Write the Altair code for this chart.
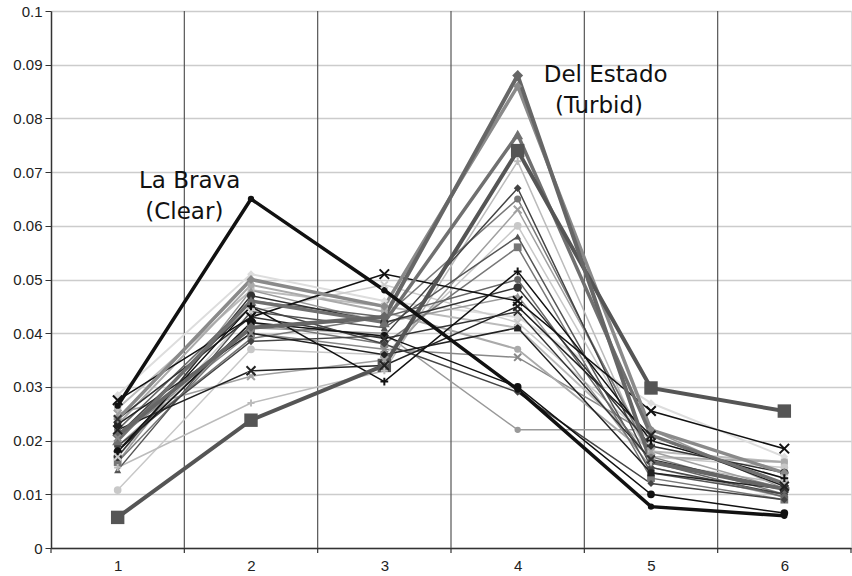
import altair as alt
import pandas as pd

sites = [1, 2, 3, 4, 5, 6]

# series: name, values, color, line width, marker
series_names = [f"s{i}" for i in range(1, 29)]
series_values = [
    [0.0205, 0.040, 0.037, 0.0355, 0.021, 0.012],
    [0.019, 0.041, 0.040, 0.022, 0.022, 0.011],
    [0.0285, 0.051, 0.046, 0.043, 0.027, 0.017],
    [0.026, 0.048, 0.045, 0.041, 0.018, 0.016],
    [0.023, 0.049, 0.044, 0.037, 0.017, 0.016],
    [0.017, 0.044, 0.049, 0.042, 0.020, 0.013],
    [0.0108, 0.037, 0.036, 0.060, 0.017, 0.015],
    [0.015, 0.027, 0.033, 0.072, 0.016, 0.012],
    [0.025, 0.032, 0.035, 0.063, 0.018, 0.011],
    [0.016, 0.048, 0.042, 0.047, 0.015, 0.0095],
    [0.016, 0.042, 0.038, 0.056, 0.013, 0.009],
    [0.0145, 0.044, 0.041, 0.058, 0.014, 0.010],
    [0.019, 0.039, 0.043, 0.065, 0.017, 0.010],
    [0.019, 0.0385, 0.0395, 0.067, 0.015, 0.010],
    [0.022, 0.046, 0.043, 0.050, 0.016, 0.0095],
    [0.024, 0.043, 0.039, 0.044, 0.0165, 0.011],
    [0.023, 0.040, 0.036, 0.041, 0.014, 0.011],
    [0.021, 0.045, 0.038, 0.029, 0.012, 0.009],
    [0.018, 0.042, 0.0395, 0.030, 0.010, 0.0065],
    [0.022, 0.033, 0.034, 0.045, 0.021, 0.0115],
    [0.017, 0.047, 0.042, 0.0485, 0.019, 0.014],
    [0.018, 0.045, 0.031, 0.0515, 0.020, 0.013],
    [0.0275, 0.043, 0.051, 0.046, 0.0255, 0.0185],
    [0.024, 0.050, 0.045, 0.086, 0.022, 0.014],
    [0.020, 0.046, 0.042, 0.077, 0.021, 0.012],
    [0.0057, 0.0238, 0.034, 0.074, 0.0298, 0.0255],
    [0.021, 0.041, 0.043, 0.088, 0.016, 0.011],
    [0.0265, 0.065, 0.048, 0.0295, 0.0077, 0.006],
]
series_colors = [
    "#888888", "#999999", "#dddddd", "#bbbbbb", "#aaaaaa", "#cccccc", "#c8c8c8",
    "#bbbbbb", "#a0a0a0", "#999999", "#777777", "#555555", "#777777", "#444444",
    "#666666", "#333333", "#222222", "#444444", "#111111", "#222222", "#333333",
    "#111111", "#111111", "#8a8a8a", "#707070", "#555555", "#666666", "#111111",
]
series_widths = [
    1.5, 1.5, 2, 2, 2, 1.5, 1.5, 1.5, 1.5, 1.5, 1.5, 1.5, 1.5, 1.5,
    1.5, 1.5, 1.5, 1.5, 1.5, 1.5, 1.5, 1.5, 1.5, 3.5, 3.5, 4, 4, 3.5,
]
series_markers = [
    "x", "circle", "diamond", "square", "circle", "x", "circle",
    "plus", "x", "triangle-up", "square", "triangle-up", "circle", "diamond",
    "circle", "x", "square", "diamond", "circle", "x", "circle",
    "plus", "x", "diamond", "triangle-up", "square", "diamond", "circle",
]
series_marker_sizes = [
    50, 40, 60, 50, 50, 50, 60, 50, 60, 50, 60, 50, 50, 60,
    50, 60, 50, 50, 60, 80, 70, 60, 90, 80, 120, 180, 120, 40,
]

annot_text = ["La Brava", "(Clear)", "Del Estado", "(Turbid)"]
annot_x = [1.54, 1.5, 4.66, 4.61]
annot_y = [0.0683, 0.0626, 0.0881, 0.0823]

y_ticks = [round(i * 0.01, 2) for i in range(11)]
boundaries = [1.5, 2.5, 3.5, 4.5, 5.5]
tick_bounds = [0.5, 1.5, 2.5, 3.5, 4.5, 5.5, 6.5]

rows = []
for i, name in enumerate(series_names):
    for s, v in zip(sites, series_values[i]):
        rows.append({
            "series": name, "order": i, "site": s, "value": v,
            "color": series_colors[i], "width": series_widths[i],
            "marker": series_markers[i], "msize": series_marker_sizes[i],
        })
df = pd.DataFrame(rows)

W, H = 800, 537
xs = alt.Scale(domain=[0.5, 6.5], nice=False, zero=False)
ys = alt.Scale(domain=[0, 0.1], nice=False)

grid = alt.Chart(pd.DataFrame({"b": boundaries})).mark_rule(
    color="#555555", strokeWidth=1.2
).encode(x=alt.X("b:Q", scale=xs), y=alt.value(0), y2=alt.value(H))

ticks = alt.Chart(pd.DataFrame({"b": tick_bounds})).mark_rule(
    color="#333333", strokeWidth=1.2
).encode(x=alt.X("b:Q", scale=xs), y=alt.value(H), y2=alt.value(H + 5))

lines = alt.Chart(df).mark_line().encode(
    x=alt.X("site:Q", scale=xs, axis=alt.Axis(
        values=sites, format="d", ticks=False, grid=False, title=None,
        domainColor="#333333", domainWidth=1.5, labelFontSize=15,
        labelColor="#222222", labelFont="Liberation Sans", labelPadding=10)),
    y=alt.Y("value:Q", scale=ys, axis=alt.Axis(
        values=y_ticks, format=".2~f", title=None, gridColor="#cccccc",
        gridWidth=1.3, domainColor="#333333", domainWidth=1.5,
        tickColor="#333333", tickSize=6, labelFontSize=15,
        labelColor="#222222", labelFont="Liberation Sans", labelPadding=3)),
    detail="series:N",
    order="site:Q",
    color=alt.Color("color:N", scale=None),
    strokeWidth=alt.StrokeWidth("width:Q", scale=None),
)

filled_df = df[~df["marker"].isin(["x", "plus"])]
stroke_df = df[df["marker"].isin(["x", "plus"])].copy()
stroke_df["path"] = stroke_df["marker"].map({
    "x": "M-1,-1L1,1M-1,1L1,-1",
    "plus": "M-1,0L1,0M0,-1L0,1",
})

pts_filled = alt.Chart(filled_df).mark_point(filled=True, opacity=1).encode(
    x=alt.X("site:Q", scale=xs),
    y=alt.Y("value:Q", scale=ys),
    shape=alt.Shape("marker:N", scale=None),
    color=alt.Color("color:N", scale=None),
    size=alt.Size("msize:Q", scale=None),
)

pts_stroke = alt.Chart(stroke_df).mark_point(filled=False, opacity=1, strokeWidth=2).encode(
    x=alt.X("site:Q", scale=xs),
    y=alt.Y("value:Q", scale=ys),
    shape=alt.Shape("path:N", scale=None),
    color=alt.Color("color:N", scale=None),
    size=alt.Size("msize:Q", scale=None),
)

annots = alt.Chart(pd.DataFrame({
    "t": annot_text, "x": annot_x, "y": annot_y
})).mark_text(font="DejaVu Sans", fontSize=23, color="#111111", align="center",
              baseline="middle").encode(
    x=alt.X("x:Q", scale=xs), y=alt.Y("y:Q", scale=ys), text="t:N")

chart = alt.layer(grid, ticks, lines, pts_filled, pts_stroke, annots).properties(
    width=W, height=H,
    autosize=alt.AutoSizeParams(type="none"),
    padding={"left": 51, "top": 11, "right": 1, "bottom": 28},
).configure_view(stroke=None).configure(background="white")

chart.save("out.html", embed_options={"renderer": "svg", "actions": False})
